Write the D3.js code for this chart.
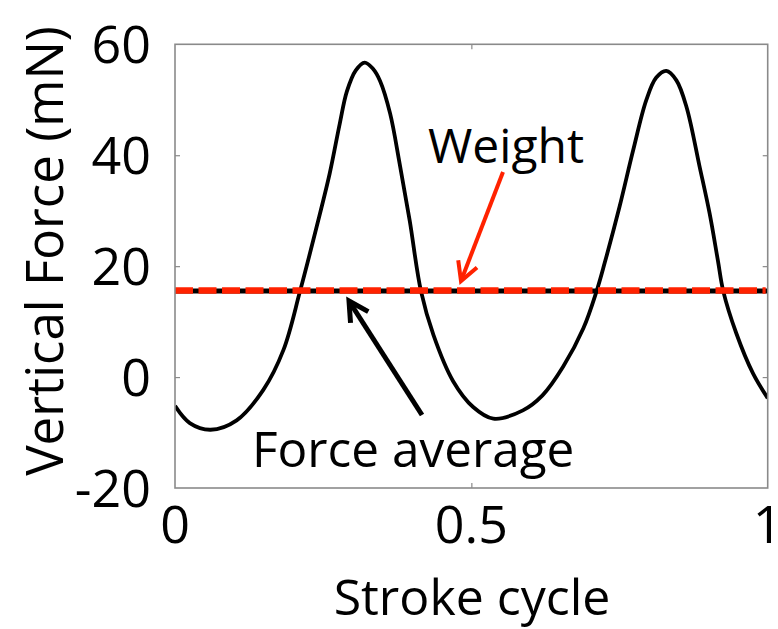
<!DOCTYPE html>
<html><head><meta charset="utf-8">
<script src="https://cdn.jsdelivr.net/npm/d3@7"></script>
<style>body{margin:0;background:#fff}svg{display:block}text{font-family:"Open Sans",sans-serif;fill:#000}</style>
</head><body>
<script>
const strokeCycle = [0, 0.025, 0.06, 0.104, 0.149, 0.183, 0.211, 0.239, 0.261, 0.278, 0.29, 0.305, 0.32, 0.334, 0.346, 0.363, 0.379, 0.396, 0.415, 0.436, 0.469, 0.503, 0.537, 0.587, 0.62, 0.655, 0.689, 0.711, 0.725, 0.75, 0.773, 0.795, 0.812, 0.829, 0.846, 0.863, 0.885, 0.902, 0.916, 0.925, 0.947, 0.975, 1.0];
const verticalForce = [-5.2, -8.3, -9.5, -7.8, -2.3, 4.9, 15.5, 27.1, 36.7, 45.7, 51.5, 55.3, 56.7, 55.6, 53.4, 47.5, 38.5, 28.2, 15.5, 7.6, -0.7, -5.4, -7.5, -6.0, -3.3, 1.9, 8.8, 15.4, 20.6, 30.7, 40.9, 49.9, 54.0, 55.2, 53.5, 48.7, 38.0, 29.5, 21.0, 15.5, 7.9, 0.7, -3.8];
const forceAverage = 15.5;
const weight = 15.6;
const yTicks = [-20, 0, 20, 40, 60];
const xTicks = [0, 0.5, 1];
const xTickLabels = ["0", "0.5", "1"];

const W = 778, H = 629;
const L = 175, R = 767.7, T = 44.3, B = 488;
const svg = d3.select("body").append("svg").attr("width", W).attr("height", H);
const x = d3.scaleLinear().domain([0, 1]).range([L, R]);
const y = d3.scaleLinear().domain([-20, 60]).range([B, T]);

const frameCol = "#8a8a8a";
// inner ticks
const gL = svg.append("g").attr("transform", `translate(${L},0)`)
  .call(d3.axisRight(y).tickValues(yTicks.filter(v => v > -20 && v < 60)).tickSize(5).tickFormat(""));
const gR = svg.append("g").attr("transform", `translate(${R},0)`)
  .call(d3.axisLeft(y).tickValues(yTicks.filter(v => v > -20 && v < 60)).tickSize(5).tickFormat(""));
const gB = svg.append("g").attr("transform", `translate(0,${B})`)
  .call(d3.axisTop(x).tickValues([0.5]).tickSize(5).tickFormat(""));
const gT = svg.append("g").attr("transform", `translate(0,${T})`)
  .call(d3.axisBottom(x).tickValues([0.5]).tickSize(5).tickFormat(""));
[gL, gR, gB, gT].forEach(g => { g.select(".domain").remove(); g.selectAll("line").attr("stroke", frameCol).attr("stroke-width", 1.2); });

// tick labels
svg.append("g").selectAll("text").data(yTicks).join("text")
  .attr("x", 151).attr("y", d => y(d)).attr("dy", "0.36em")
  .attr("text-anchor", "end").attr("font-size", 52).text(d => d);
svg.append("g").selectAll("text").data(xTicks).join("text")
  .attr("x", d => x(d)).attr("y", 543)
  .attr("text-anchor", "middle").attr("font-size", 52).text((d, i) => xTickLabels[i]);

// axis titles
svg.append("text").attr("x", 472).attr("y", 615).attr("text-anchor", "middle")
  .attr("font-size", 50).text("Stroke cycle");
svg.append("text").attr("transform", `translate(63,251) rotate(-90)`).attr("text-anchor", "middle")
  .attr("font-size", 51).text("Vertical Force (mN)");

// curve
const line = d3.line().x((d, i) => x(strokeCycle[i])).y(d => y(d)).curve(d3.curveCatmullRom.alpha(0.5));
svg.append("clipPath").attr("id", "c").append("rect").attr("x", L).attr("y", T).attr("width", R - L).attr("height", B - T);
svg.append("path").datum(verticalForce).attr("d", line).attr("fill", "none")
  .attr("stroke", "#000").attr("stroke-width", 3.8).attr("stroke-linejoin", "round").attr("clip-path", "url(#c)");

// average + weight
svg.append("line").attr("x1", x(0)).attr("x2", x(1)).attr("y1", y(forceAverage)).attr("y2", y(forceAverage))
  .attr("stroke", "#000").attr("stroke-width", 5);
svg.append("line").attr("x1", x(0)).attr("x2", x(1) - 2).attr("y1", y(weight)).attr("y2", y(weight))
  .attr("stroke", "#ff2200").attr("stroke-width", 6.5).attr("stroke-dasharray", "18,5.5");

// frame
svg.append("rect").attr("x", L).attr("y", T).attr("width", R - L).attr("height", B - T)
  .attr("fill", "none").attr("stroke", frameCol).attr("stroke-width", 1.6);

// annotations
svg.append("text").attr("x", 428).attr("y", 163).attr("font-size", 48).text("Weight");
svg.append("text").attr("x", 252).attr("y", 467).attr("font-size", 49.5).text("Force average");

function arrow(x1, y1, x2, y2, col, w, head) {
  const a = Math.atan2(y2 - y1, x2 - x1);
  const g = svg.append("g").attr("stroke", col).attr("stroke-width", w).attr("fill", "none").attr("stroke-linecap", "butt");
  g.append("line").attr("x1", x1).attr("y1", y1).attr("x2", x2).attr("y2", y2);
  const p = [a + Math.PI - 0.5, a + Math.PI + 0.5].map(b => [x2 + head * Math.cos(b), y2 + head * Math.sin(b)]);
  g.append("path").attr("d", `M${p[0][0]},${p[0][1]}L${x2},${y2}L${p[1][0]},${p[1][1]}`).attr("stroke-linejoin", "miter");
}
arrow(503, 172, 461, 281, "#ff2200", 4, 21);
arrow(422, 415, 349, 301, "#000", 5, 22);
</script>
</body></html>
